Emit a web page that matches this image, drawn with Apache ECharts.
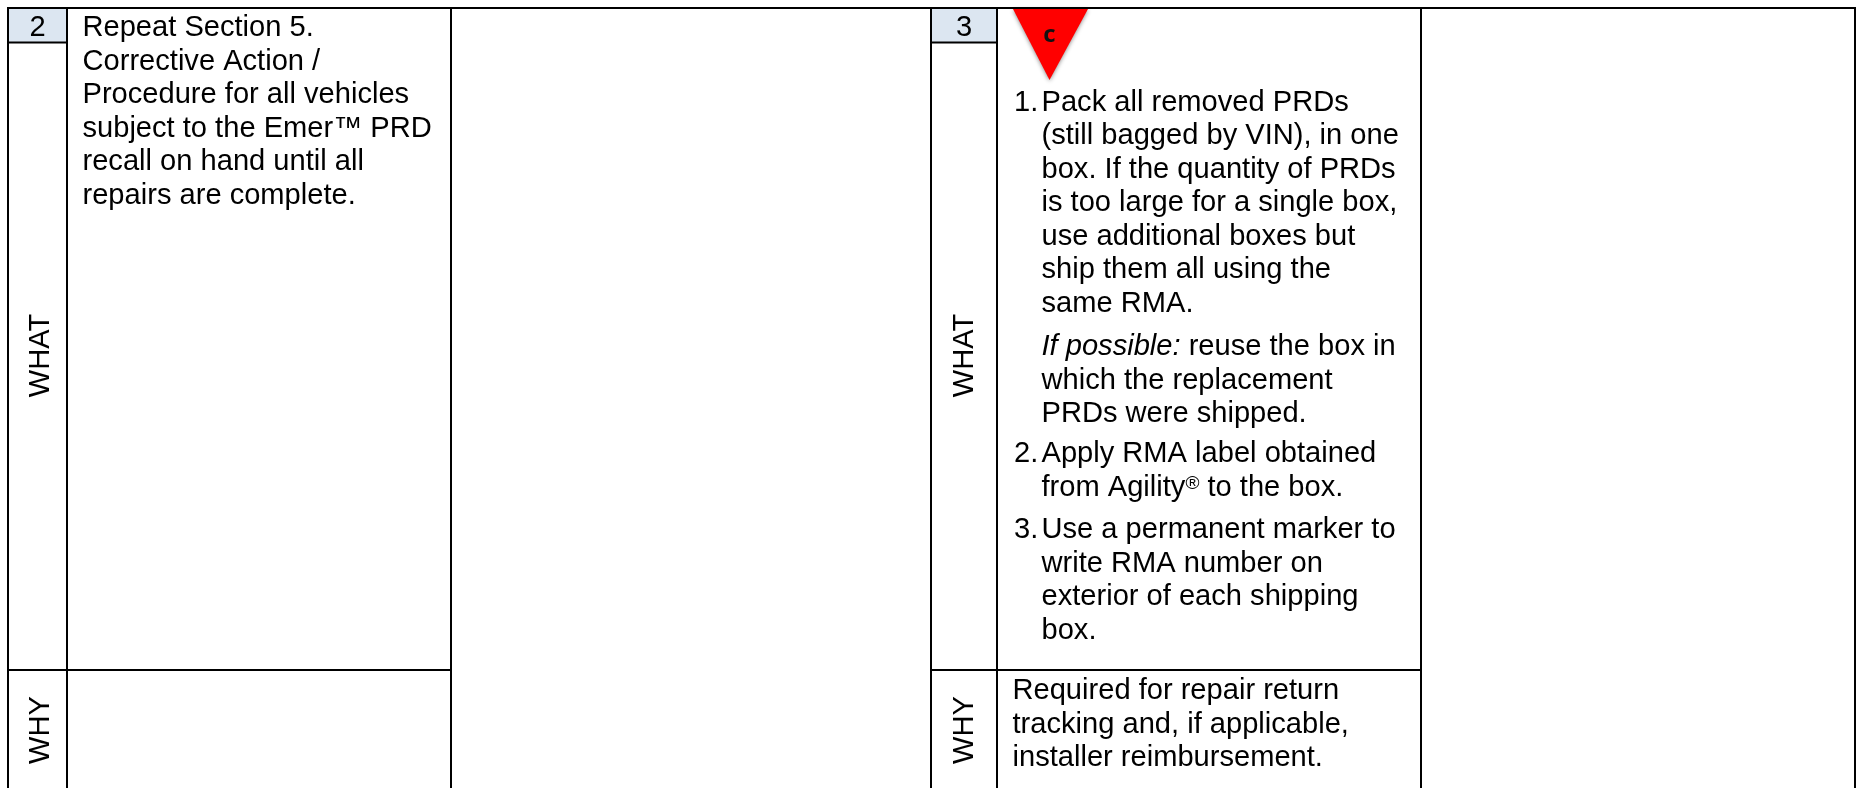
<!DOCTYPE html>
<html>
<head>
<meta charset="utf-8">
<style>html,body{margin:0;padding:0;background:#fff}#c{width:1858px;height:788px}</style>
<script src="https://cdn.jsdelivr.net/npm/echarts@6/dist/echarts.min.js"></script>
</head>
<body>
<div id="c"></div>
<script>
// ---- content ----
const stepNumbers = ['2', '3'];
const rowLabels = ['WHAT', 'WHY'];
const step2What = ['Repeat Section 5.', 'Corrective Action /', 'Procedure for all vehicles', 'subject to the Emer™ PRD', 'recall on hand until all', 'repairs are complete.'];
const step3Item1 = ['Pack all removed PRDs', '(still bagged by VIN), in one', 'box. If the quantity of PRDs', 'is too large for a single box,', 'use additional boxes but', 'ship them all using the', 'same RMA.'];
const step3Note = ['{i|If possible:} reuse the box in', 'which the replacement', 'PRDs were shipped.'];
const step3Item2 = ['Apply RMA label obtained', 'from Agility{s|®} to the box.'];
const step3Item3 = ['Use a permanent marker to', 'write RMA number on', 'exterior of each shipping', 'box.'];
const step3Why = ['Required for repair return', 'tracking and, if applicable,', 'installer reimbursement.'];
const warningLetter = 'c';

// ---- layout (page units of the hidden axes) ----
const W = 1858, H = 788;
const FONT = '"Liberation Sans", Arial, sans-serif';
const BODY = 29.1, LEAD = 33.5, DROP = 2.5;
const X = {a: 8, b: 67, c: 451, d: 931, e: 997, f: 1421, g: 1855};
const Y = {top: 8, head: 42.5, why: 670, bottom: 788};

const lines = [
  [X.a, Y.top, X.g, Y.top],
  [X.a, Y.top, X.a, Y.bottom], [X.b, Y.top, X.b, Y.bottom], [X.c, Y.top, X.c, Y.bottom],
  [X.d, Y.top, X.d, Y.bottom], [X.e, Y.top, X.e, Y.bottom], [X.f, Y.top, X.f, Y.bottom], [X.g, Y.top, X.g, Y.bottom],
  [X.a, Y.head, X.b, Y.head], [X.d, Y.head, X.e, Y.head],
  [X.a, Y.why, X.c, Y.why], [X.d, Y.why, X.f, Y.why]
];
const fills = [[X.a, Y.top, X.b, Y.head], [X.d, Y.top, X.e, Y.head]];
const triangle = [[1013, 9], [1088, 9], [1049.5, 80]];

const texts = [];
function block(arr, x, base, lead) {
  arr.forEach((t, i) => texts.push({t, x, base: base + i * (lead || LEAD), size: BODY, align: 'left'}));
}
texts.push({t: stepNumbers[0], x: 37.5, base: 35.5, size: BODY, align: 'center'});
texts.push({t: stepNumbers[1], x: 964, base: 35.5, size: BODY, align: 'center'});
block(step2What, 82.5, 36, 33.45);
block(step3Item1, 1041.5, 110.5, 33.5);
block(step3Note, 1041.5, 354.5, 33.7);
block(step3Item2, 1041.5, 462, 34);
block(step3Item3, 1041.5, 538, 33.4);
block(step3Why, 1012.5, 699, 33.3);
block(['1.'], 1014, 110.5);
block(['2.'], 1014, 462);
block(['3.'], 1014, 538);
const rotated = [
  {t: rowLabels[0], x: 41, y: 355.5}, {t: rowLabels[1], x: 41, y: 730},
  {t: rowLabels[0], x: 965, y: 355.5}, {t: rowLabels[1], x: 965, y: 730}
];

const rich = {
  i: {fontFamily: FONT, fontSize: BODY, fontStyle: 'italic', color: '#000'},
  s: {fontFamily: FONT, fontSize: 19, verticalAlign: 'top', color: '#000', padding: [0, 0, 9, 0]}
};

const chart = echarts.init(document.getElementById('c'), null, {renderer: 'canvas'});
chart.setOption({
  animation: false,
  backgroundColor: '#fff',
  grid: {left: 0, right: 0, top: 0, bottom: 0},
  xAxis: {type: 'value', min: 0, max: W, show: false},
  yAxis: {type: 'value', min: 0, max: H, inverse: true, show: false},
  tooltip: {show: false},
  series: [
    {
      type: 'custom', name: 'headerFill', coordinateSystem: 'cartesian2d', silent: true, clip: false, z: 1,
      data: fills,
      renderItem(p, api) {
        const a = api.coord([api.value(0), api.value(1)]), b = api.coord([api.value(2), api.value(3)]);
        return {type: 'rect', shape: {x: a[0], y: a[1], width: b[0] - a[0], height: b[1] - a[1]}, style: {fill: '#dce6f1'}};
      }
    },
    {
      type: 'custom', name: 'rules', coordinateSystem: 'cartesian2d', silent: true, clip: false, z: 3,
      data: lines,
      renderItem(p, api) {
        const a = api.coord([api.value(0), api.value(1)]), b = api.coord([api.value(2), api.value(3)]);
        const vertical = a[0] === b[0];
        return {type: 'line', shape: {x1: a[0], y1: vertical ? a[1] - 1 : a[1], x2: b[0], y2: b[1]},
          style: {stroke: '#000', lineWidth: 2, fill: null}};
      }
    },
    {
      type: 'custom', name: 'warning', coordinateSystem: 'cartesian2d', silent: true, clip: false, z: 2,
      data: [[0]],
      renderItem(p, api) {
        const pts = triangle.map(q => api.coord(q));
        const ctr = api.coord([1049.5, 35]);
        return {type: 'group', children: [
          {type: 'polygon', shape: {points: pts}, style: {fill: '#ff0000', shadowBlur: 4, shadowColor: 'rgba(0,0,0,0.45)', shadowOffsetY: 1}},
          {type: 'text', x: ctr[0], y: ctr[1], style: {text: warningLetter, font: 'bold 24px "Open Sans", sans-serif', fill: '#111', align: 'center', verticalAlign: 'middle'}}
        ]};
      }
    },
    {
      type: 'custom', name: 'body', coordinateSystem: 'cartesian2d', silent: true, clip: false, z: 4,
      data: texts.map((d, i) => [d.x, d.base, i]),
      renderItem(p, api) {
        const d = texts[api.value(2)];
        const pos = api.coord([d.x, d.base - 0.347 * d.size + DROP]);
        return {type: 'text', x: pos[0], y: pos[1], style: {
          text: d.t, rich, fontFamily: FONT, fontSize: d.size, fill: '#000', align: d.align, verticalAlign: 'middle'
        }};
      }
    },
    {
      type: 'custom', name: 'rowLabels', coordinateSystem: 'cartesian2d', silent: true, clip: false, z: 4,
      data: rotated.map((d, i) => [d.x, d.y, i]),
      renderItem(p, api) {
        const d = rotated[api.value(2)];
        const pos = api.coord([d.x, d.y]);
        return {type: 'text', x: pos[0], y: pos[1], rotation: Math.PI / 2, style: {
          text: d.t, fontFamily: FONT, fontSize: BODY, fill: '#000', align: 'center', verticalAlign: 'middle'
        }};
      }
    }
  ]
});
</script>
</body>
</html>
